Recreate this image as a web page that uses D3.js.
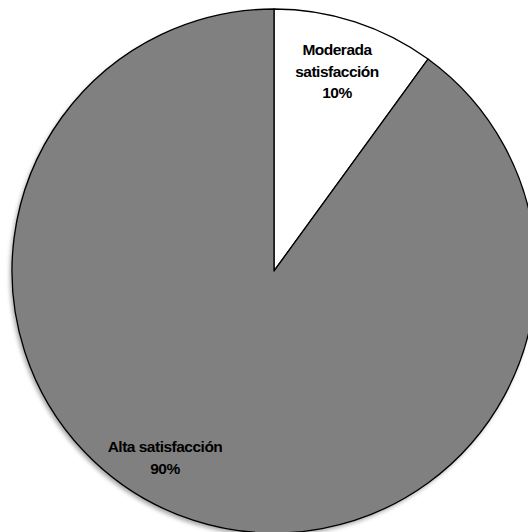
<!DOCTYPE html>
<html><head><meta charset="utf-8">
<script src="https://cdn.jsdelivr.net/npm/d3@7"></script>
<style>html,body{margin:0;padding:0;background:#fff;overflow:hidden}</style>
</head><body>
<svg id="c" width="528" height="532"></svg>
<script>
const categories = ["Moderada satisfacción", "Alta satisfacción"];
const values = [10, 90];
const labelLines = [["Moderada", "satisfacción", "10%"], ["Alta satisfacción", "90%"]];
const colors = ["#ffffff", "#808080"];

const svg = d3.select("#c");
const cx = 274, cy = 271, r = 262;
const defs = svg.append("defs");
const f = defs.append("filter").attr("id","sh").attr("x","-10%").attr("y","-10%").attr("width","120%").attr("height","120%");
f.append("feDropShadow").attr("dx",-2).attr("dy",3).attr("stdDeviation",2).attr("flood-color","#000").attr("flood-opacity",0.35);

const g = svg.append("g").attr("transform",`translate(${cx},${cy})`);
const pie = d3.pie().sort(null).value(d=>d)(values);
const arc = d3.arc().innerRadius(0).outerRadius(r);

g.append("circle").attr("r",r).attr("fill","#808080").attr("filter","url(#sh)");
g.selectAll("path.s").data(pie).join("path").attr("class","s")
  .attr("d",arc).attr("fill",(d,i)=>colors[i])
  .attr("stroke","#000").attr("stroke-width",1.3).attr("stroke-linejoin","round");

const labelPos = [[63, -216], [-109, 181]];
pie.forEach((d,i)=>{
  const lines = labelLines[i];
  const t = g.append("text").attr("text-anchor","middle")
    .attr("font-family","Liberation Sans, Arial, sans-serif").attr("font-weight","bold")
    .attr("font-size","15.5px").attr("letter-spacing","-0.5px").attr("fill","#000");
  lines.forEach((ln,j)=>{
    t.append("tspan").attr("x",labelPos[i][0]).attr("y",labelPos[i][1] + j*21.5).text(ln);
  });
});
</script>
</body></html>
